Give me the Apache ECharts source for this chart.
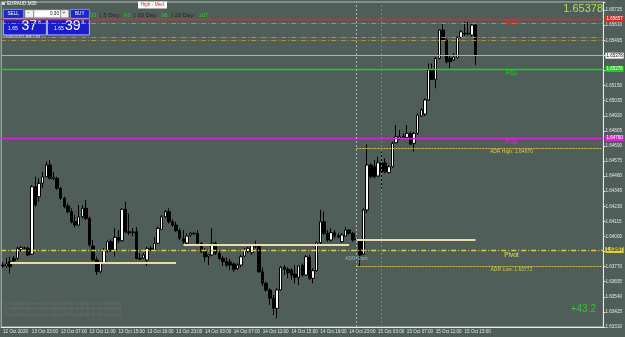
<!DOCTYPE html>
<html><head><meta charset="utf-8">
<script src="https://cdn.jsdelivr.net/npm/echarts@6/dist/echarts.min.js"></script>
<style>html,body{margin:0;padding:0;background:#4f5e59;}#c{width:625px;height:337px;}</style>
</head><body><div id="c"></div>
<script>
// ---- data ----
const tickLabels = ['12 Oct 2020','13 Oct 03:00','13 Oct 07:00','13 Oct 11:00','13 Oct 15:00','13 Oct 19:00','13 Oct 23:00','14 Oct 03:00','14 Oct 07:00','14 Oct 11:00','14 Oct 15:00','14 Oct 19:00','14 Oct 23:00','15 Oct 03:00','15 Oct 07:00','15 Oct 11:00','15 Oct 15:00'];
const opens = [1.63782,1.63775,1.63808,1.63833,1.63833,1.63902,1.63910,1.63910,1.63866,1.64379,1.64303,1.64405,1.64455,1.64544,1.64443,1.64443,1.64367,1.64291,1.64232,1.64189,1.64112,1.64087,1.64150,1.64214,1.64138,1.63927,1.63821,1.63731,1.63795,1.63891,1.63960,1.63897,1.63994,1.63968,1.64207,1.64036,1.64029,1.64036,1.63833,1.63836,1.63821,1.63910,1.63897,1.63948,1.64054,1.64150,1.64189,1.64112,1.64087,1.64044,1.63981,1.63950,1.64011,1.64024,1.64021,1.63948,1.63884,1.63846,1.63859,1.63948,1.63872,1.63833,1.63808,1.63805,1.63790,1.63757,1.63782,1.63851,1.63884,1.63876,1.63922,1.63922,1.63731,1.63643,1.63592,1.63529,1.63452,1.63592,1.63765,1.63750,1.63744,1.63714,1.63689,1.63782,1.63706,1.63841,1.63681,1.63739,1.63952,1.64112,1.64024,1.63973,1.64029,1.64003,1.63960,1.64003,1.64049,1.64024,1.63973,1.63973,1.63866,1.64202,1.64544,1.64531,1.64461,1.64562,1.64560,1.64486,1.64531,1.64714,1.64748,1.64760,1.64755,1.64786,1.64710,1.64786,1.64918,1.64933,1.65040,1.65268,1.65197,1.65357,1.65573,1.65497,1.65360,1.65345,1.65365,1.65518,1.65550,1.65543,1.65535,1.65611];
const closes = [1.63775,1.63790,1.63769,1.63815,1.63910,1.63917,1.63912,1.63859,1.64379,1.64240,1.64405,1.64455,1.64544,1.64443,1.64453,1.64367,1.64291,1.64227,1.64189,1.64112,1.64087,1.64150,1.64214,1.64138,1.63935,1.63821,1.63731,1.63795,1.63891,1.63960,1.63891,1.63994,1.63968,1.64207,1.64036,1.64029,1.64034,1.63833,1.63828,1.63859,1.63910,1.63904,1.63948,1.64062,1.64150,1.64189,1.64112,1.64087,1.64044,1.63986,1.63958,1.64003,1.64024,1.64021,1.63948,1.63884,1.63846,1.63859,1.63948,1.63872,1.63833,1.63808,1.63782,1.63782,1.63750,1.63782,1.63846,1.63897,1.63910,1.63930,1.63930,1.63731,1.63643,1.63592,1.63529,1.63452,1.63592,1.63765,1.63750,1.63724,1.63706,1.63689,1.63775,1.63706,1.63846,1.63681,1.63739,1.63952,1.64112,1.64024,1.63973,1.64029,1.64003,1.63998,1.64011,1.64049,1.64024,1.63973,1.63986,1.63859,1.64202,1.64544,1.64455,1.64455,1.64562,1.64493,1.64493,1.64531,1.64710,1.64760,1.64760,1.64758,1.64786,1.64704,1.64786,1.64925,1.64964,1.65040,1.65268,1.65197,1.65357,1.65573,1.65497,1.65332,1.65332,1.65367,1.65518,1.65560,1.65543,1.65548,1.65611,1.65378];
const lows = [1.63760,1.63760,1.63719,1.63795,1.63821,1.63884,1.63884,1.63851,1.63859,1.64227,1.64265,1.64367,1.64451,1.64435,1.64430,1.64354,1.64278,1.64214,1.64176,1.64100,1.64070,1.64080,1.64138,1.64125,1.63922,1.63815,1.63706,1.63719,1.63790,1.63876,1.63884,1.63846,1.63948,1.63960,1.64024,1.64011,1.64003,1.63826,1.63821,1.63828,1.63775,1.63889,1.63889,1.63942,1.64049,1.64138,1.64100,1.64074,1.64036,1.63973,1.63927,1.63935,1.63998,1.64011,1.63935,1.63872,1.63808,1.63782,1.63851,1.63859,1.63821,1.63775,1.63769,1.63744,1.63731,1.63744,1.63765,1.63841,1.63874,1.63859,1.63910,1.63724,1.63622,1.63579,1.63478,1.63401,1.63376,1.63585,1.63706,1.63681,1.63668,1.63643,1.63630,1.63693,1.63699,1.63668,1.63643,1.63731,1.63935,1.64011,1.63960,1.63960,1.63986,1.63986,1.63952,1.63998,1.64011,1.63960,1.63960,1.63775,1.63859,1.64181,1.64443,1.64443,1.64455,1.64367,1.64481,1.64481,1.64524,1.64710,1.64735,1.64748,1.64748,1.64697,1.64646,1.64773,1.64912,1.64918,1.65034,1.65192,1.65129,1.65350,1.65492,1.65319,1.65281,1.65337,1.65357,1.65510,1.65527,1.65535,1.65522,1.65306];
const highs = [1.63805,1.63836,1.63846,1.63851,1.63922,1.63927,1.63922,1.63922,1.64392,1.64455,1.64443,1.64493,1.64570,1.64583,1.64493,1.64455,1.64379,1.64303,1.64253,1.64214,1.64163,1.64240,1.64240,1.64278,1.64150,1.63973,1.63846,1.63808,1.63910,1.63973,1.63978,1.64062,1.64049,1.64214,1.64265,1.64176,1.64064,1.64070,1.63872,1.63874,1.63922,1.63927,1.63994,1.64074,1.64163,1.64202,1.64214,1.64131,1.64112,1.64062,1.64049,1.64024,1.64036,1.64036,1.64049,1.63958,1.63910,1.63866,1.64062,1.63960,1.63891,1.63851,1.63841,1.63830,1.63800,1.63795,1.63859,1.63910,1.63920,1.63935,1.63968,1.63927,1.63765,1.63655,1.63605,1.63554,1.63605,1.63775,1.63782,1.63765,1.63757,1.63782,1.63782,1.63795,1.63859,1.63859,1.63757,1.63960,1.64202,1.64189,1.64049,1.64062,1.64049,1.64024,1.64024,1.64074,1.64054,1.64036,1.63998,1.63981,1.64214,1.64704,1.64557,1.64583,1.64608,1.64646,1.64595,1.64544,1.64722,1.64849,1.64811,1.64786,1.64849,1.64798,1.64798,1.64938,1.64976,1.65053,1.65319,1.65319,1.65370,1.65578,1.65624,1.65510,1.65383,1.65396,1.65527,1.65573,1.65636,1.65636,1.65624,1.65624];

// horizontal levels
const levelNames  = ['R78','R61','R38','Pivot'];
const levelValues = [1.65657, 1.65276, 1.64750, 1.63897];
const levelColors = ['#e02a2a','#19d219','#e020e0','#d8d040'];
const fiboDashValues = [1.65624, 1.65517, 1.65497];
const currentPrice = 1.65378;
const adrHigh = 1.64670, adrLow = 1.63772;
const dayOpenValues = [1.63796, 1.63935, 1.63978];
const dayOpenStart = [2, 50, 98];
const dayOpenEnd = [48, 96, 131];
const adrStartBar = 98, markerBar = 105;
const yMin = 1.63310, yMax = 1.65787, yStep = 0.00115;
const totalSlots = 167;

// ---- build ----
const categories = [];
for (let i = 0; i < totalSlots; i++) categories.push(i % 8 === 0 && tickLabels[i / 8] ? tickLabels[i / 8] : 'b' + i);
const candles = opens.map((o, i) => [o, closes[i], lows[i], highs[i]]);
while (candles.length < totalSlots) candles.push('-');
const showTick = (i) => i % 8 === 0 && i / 8 < tickLabels.length;

const FONT = 'Liberation Sans';
const lineData = [];
levelValues.forEach((v, i) => lineData.push({
  yAxis: v,
  lineStyle: { color: levelColors[i], width: 1.3, type: i === 3 ? [5, 2, 1, 2] : 'solid' },
  label: { show: true, position: 'end', distance: 2, formatter: v.toFixed(5), color: i === 3 ? '#000' : '#fff',
           backgroundColor: levelColors[i], fontSize: 4.5, padding: [1, 1, 0, 1], fontFamily: FONT }
}));
fiboDashValues.forEach(v => lineData.push({ yAxis: v, lineStyle: { color: '#b09040', width: 1, type: [5, 2, 1, 2] }, label: { show: false } }));
lineData.push({ yAxis: currentPrice, lineStyle: { color: '#a9b3b0', width: 1, type: 'solid' },
  label: { show: true, position: 'end', distance: 2, formatter: currentPrice.toFixed(5), color: '#000', backgroundColor: '#ffffff', fontSize: 4.5, padding: [1, 1, 0, 1], fontFamily: FONT } });
lineData.push({ xAxis: categories[adrStartBar], lineStyle: { color: '#a6b0ae', width: 1, type: [2, 2] }, label: { show: false } });
lineData.push({ xAxis: categories[markerBar], lineStyle: { color: '#74827e', width: 1, type: [2, 2] }, label: { show: false } });
[adrHigh, adrLow].forEach(v => lineData.push([
  { coord: [categories[adrStartBar], v], lineStyle: { color: '#d0c040', width: 1, type: [2, 1] }, label: { show: false } },
  { coord: [categories[totalSlots - 1], v] }
]));
dayOpenValues.forEach((v, i) => lineData.push([
  { coord: [categories[dayOpenStart[i]], v], lineStyle: { color: '#e6dfa6', width: 2, type: 'solid' }, label: { show: false } },
  { coord: [categories[dayOpenEnd[i]], v] }
]));

const txt = (name, v, color, size, dy, bar) => ({
  coord: [categories[bar === undefined ? 141 : bar], v], symbolSize: 0,
  label: { show: true, formatter: name, color: color, fontSize: size, fontFamily: FONT, offset: [0, dy], position: 'inside' }
});
const pointData = [
  txt('R78', levelValues[0], '#e02a2a', 6.5, 4),
  txt('R61', levelValues[1], '#19d219', 6.5, 4),
  txt('R38', levelValues[2], '#e020e0', 6.5, 4),
  txt('Pivot', levelValues[3], '#e8e050', 6.5, 5),
  txt('ADR High: ' + adrHigh.toFixed(5), adrHigh, '#d8c848', 5, 3),
  txt('ADR Low: ' + adrLow.toFixed(5), adrLow, '#d8c848', 5, 3),
  txt('ADR Start', adrLow, '#8fb4c4', 5, -8, adrStartBar)
];

const chart = echarts.init(document.getElementById('c'), null, { renderer: 'canvas' });
chart.setOption({
  backgroundColor: '#4f5e59',
  animation: false,
  textStyle: { fontFamily: FONT },
  grid: { left: 0, right: 21, top: 2, bottom: 10, show: true, borderColor: '#b6bebb', borderWidth: 1 },
  xAxis: {
    type: 'category', data: categories, boundaryGap: true,
    axisLine: { lineStyle: { color: '#e8ecea', width: 1 } },
    axisTick: { interval: showTick, length: 2, lineStyle: { color: '#e8ecea' }, alignWithLabel: true },
    axisLabel: { interval: showTick, align: 'left', fontSize: 4.6, color: '#e4e8e6', margin: 2, fontFamily: FONT,
                 formatter: (v) => v.charAt(0) === 'b' ? '' : v },
    splitLine: { show: false }
  },
  yAxis: {
    type: 'value', position: 'right', min: yMin, max: yMax, interval: yStep, scale: true,
    axisLine: { show: true, lineStyle: { color: '#e8ecea', width: 1 } },
    axisTick: { show: true, length: 2, lineStyle: { color: '#e8ecea' } },
    axisLabel: { fontSize: 4.6, color: '#e4e8e6', margin: 2, fontFamily: FONT,
      formatter: (v) => { const k = (v - yMin) / yStep; return Math.abs(k - Math.round(k)) < 1e-4 ? v.toFixed(5) : ''; } },
    splitLine: { show: false }
  },
  series: [{
    type: 'candlestick', data: candles, barWidth: 3,
    itemStyle: { color: '#ffffff', color0: '#000000', borderColor: '#000000', borderColor0: '#000000', borderWidth: 1 },
    markLine: { silent: true, precision: 5, symbol: ['none', 'none'], animation: false, data: lineData },
    markPoint: { silent: true, animation: false, data: pointData }
  }],
  graphic: [
    // header
    { type: 'rect', left: 2, top: 2, shape: { width: 3, height: 3 }, style: { fill: '#cfd8d4' } },
    { type: 'text', left: 7, top: 1.5, style: { text: 'EURAUD,M30', fill: '#ffffff', font: '4.6px ' + FONT } },
    // one-click panel row
    { type: 'rect', left: 3, top: 9, shape: { width: 20, height: 9 }, style: { fill: '#1c28c8', stroke: '#8ea0f0', lineWidth: 0.8 } },
    { type: 'text', left: 7.5, top: 11.5, style: { text: 'SELL', fill: '#fff', font: '4.6px ' + FONT } },
    { type: 'rect', left: 24.5, top: 9.5, shape: { width: 9, height: 8 }, style: { fill: '#f2f2f2', stroke: '#777', lineWidth: 0.6 } },
    { type: 'text', left: 27.5, top: 10.5, style: { text: '-', fill: '#333', font: '5px ' + FONT } },
    { type: 'rect', left: 33.5, top: 9.5, shape: { width: 27, height: 8 }, style: { fill: '#ffffff', stroke: '#777', lineWidth: 0.6 } },
    { type: 'text', left: 50, top: 11.5, style: { text: '0.30', fill: '#111', font: '4.6px ' + FONT } },
    { type: 'rect', left: 60.5, top: 9.5, shape: { width: 8, height: 8 }, style: { fill: '#f2f2f2', stroke: '#777', lineWidth: 0.6 } },
    { type: 'text', left: 62.5, top: 10.5, style: { text: '+', fill: '#333', font: '5px ' + FONT } },
    { type: 'rect', left: 70, top: 9, shape: { width: 19, height: 9 }, style: { fill: '#1c28c8', stroke: '#8ea0f0', lineWidth: 0.8 } },
    { type: 'text', left: 75, top: 11.5, style: { text: 'BUY', fill: '#fff', font: '4.6px ' + FONT } },
    // price boxes
    { type: 'rect', left: 3, top: 18.5, shape: { width: 43, height: 16 }, style: { fill: '#1a1ad0', stroke: '#cfd4ff', lineWidth: 0.8 } },
    { type: 'text', left: 8, top: 26.5, style: { text: '1.65', fill: '#fff', font: '5px ' + FONT } },
    { type: 'text', left: 21.5, top: 19.5, style: { text: '37', fill: '#fff', font: '14px ' + FONT } },
    { type: 'text', left: 38, top: 20.5, style: { text: '8', fill: '#fff', font: '5px ' + FONT } },
    { type: 'rect', left: 47, top: 18.5, shape: { width: 42, height: 16 }, style: { fill: '#1a1ad0', stroke: '#cfd4ff', lineWidth: 0.8 } },
    { type: 'text', left: 54, top: 26.5, style: { text: '1.65', fill: '#fff', font: '5px ' + FONT } },
    { type: 'text', left: 65, top: 19.5, style: { text: '39', fill: '#fff', font: '14px ' + FONT } },
    { type: 'text', left: 81.5, top: 20.5, style: { text: '9', fill: '#fff', font: '5px ' + FONT } },
    { type: 'text', left: 2.5, top: 35, style: { text: '#10051021 BB 130', fill: '#e8e8e8', font: '4.4px ' + FONT } },
    // ADR header
    { type: 'text', left: 90, top: 9.5, style: { rich: {
        g: { fill: '#22cc22', font: '6px ' + FONT }, d: { fill: '#1c2422', font: '6px ' + FONT } },
        text: '{g|33} {d|| 5 Day:} {g|91} {d|| 10 Day:} {g|96} {d|| 20 Day:} {g|107}' } },
    { type: 'rect', left: 138, top: 1.5, shape: { width: 29, height: 7 }, style: { fill: '#ffffff' } },
    { type: 'text', left: 140.5, top: 2.5, style: { text: 'High - Med', fill: '#e01818', font: '4.8px ' + FONT } },
    // right corner
    { type: 'text', right: 22, top: 3, style: { text: '1.65378', fill: '#a6e64a', font: '11px ' + FONT } },
    { type: 'text', right: 29, top: 304, style: { text: '+43.2', fill: '#2ec92e', font: '10px ' + FONT } },
    // news notes
    { type: 'text', left: 3.5, top: 301, style: { text: '(1) additional news per algorithmic settings is not satisfied', fill: '#6f6c63', font: '4.6px ' + FONT } },
    { type: 'text', left: 3.5, top: 306.5, style: { text: '(2) additional news per algorithmic settings is not satisfied', fill: '#6f6c63', font: '4.6px ' + FONT } },
    { type: 'text', left: 3.5, top: 312, style: { text: '(3) additional news per algorithmic settings is not satisfied', fill: '#6f6c63', font: '4.6px ' + FONT } }
  ]
});
</script></body></html>
